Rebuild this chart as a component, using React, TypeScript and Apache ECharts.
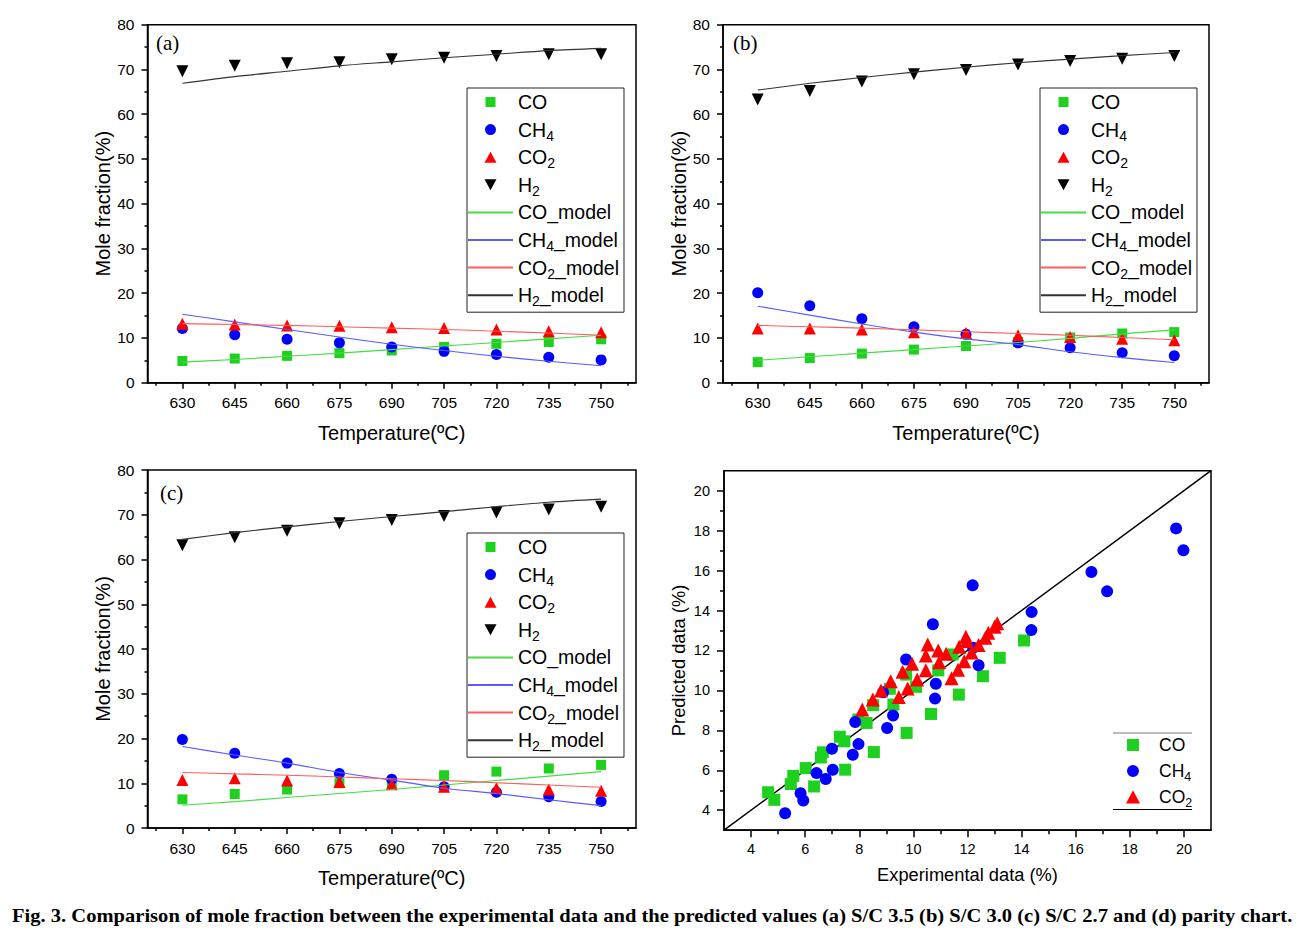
import React, { useEffect, useRef } from "react";
import * as echarts from "echarts";

// ---------- data ----------
const temps = [630, 645, 660, 675, 690, 705, 720, 735, 750];
const tempMinorTicks = [622.5, 637.5, 652.5, 667.5, 682.5, 697.5, 712.5, 727.5, 742.5, 757.5];

// (a) S/C 3.5
const aCO = [4.85, 5.4, 6.0, 6.6, 7.2, 8.0, 8.7, 9.1, 9.7];
const aCH4 = [12.1, 10.7, 9.7, 8.9, 8.0, 7.0, 6.3, 5.7, 5.1];
const aCO2 = [13.2, 13.0, 12.8, 12.7, 12.4, 12.2, 11.9, 11.5, 11.3];
const aH2 = [69.6, 70.8, 71.4, 71.6, 72.3, 72.6, 73.0, 73.4, 73.4];
const aCOm = [4.6, 5.2, 5.9, 6.6, 7.4, 8.2, 9.0, 9.8, 10.6];
const aCH4m = [15.3, 13.6, 11.9, 10.2, 8.6, 7.2, 5.9, 4.8, 3.8];
const aCO2m = [13.2, 13.0, 12.8, 12.5, 12.2, 11.9, 11.5, 11.1, 10.6];
const aH2m = [66.9, 68.4, 69.6, 70.8, 71.7, 72.6, 73.4, 74.2, 74.7];

// (b) S/C 3.0
const bCO = [4.6, 5.5, 6.5, 7.4, 8.2, 9.1, 10.1, 11.0, 11.3];
const bCH4 = [20.1, 17.2, 14.3, 12.5, 10.8, 8.9, 7.8, 6.7, 6.0];
const bCO2 = [12.1, 12.1, 11.9, 11.3, 11.1, 10.6, 10.2, 9.8, 9.5];
const bH2 = [63.3, 65.2, 67.3, 68.9, 69.9, 71.1, 71.9, 72.4, 73.0];
const bCOm = [5.0, 5.8, 6.6, 7.4, 8.2, 9.0, 9.9, 10.9, 11.8];
const bCH4m = [17.1, 15.1, 13.1, 11.3, 9.8, 8.5, 6.9, 5.6, 4.5];
const bCO2m = [12.8, 12.5, 12.2, 11.8, 11.4, 11.0, 10.6, 10.1, 9.6];
const bH2m = [65.4, 66.9, 68.2, 69.4, 70.5, 71.5, 72.3, 73.1, 73.8];

// (c) S/C 2.7
const cCO = [6.4, 7.6, 8.6, 10.0, 9.8, 11.8, 12.6, 13.3, 14.1];
const cCH4 = [19.8, 16.7, 14.5, 12.2, 10.9, 9.2, 8.0, 7.0, 5.9];
const cCO2 = [10.7, 11.1, 10.6, 10.3, 9.8, 9.2, 8.9, 8.6, 8.3];
const cH2 = [63.2, 65.0, 66.4, 68.1, 68.8, 69.7, 70.5, 71.2, 71.8];
const cCOm = [5.1, 5.9, 6.8, 7.7, 8.6, 9.6, 10.6, 11.6, 12.6];
const cCH4m = [18.2, 16.3, 14.5, 12.4, 10.7, 8.9, 7.7, 6.3, 5.0];
const cCO2m = [12.4, 12.1, 11.8, 11.4, 11.0, 10.6, 10.1, 9.6, 9.1];
const cH2m = [64.5, 66.0, 67.3, 68.5, 69.6, 70.7, 71.8, 72.8, 73.5];

// (d) parity chart: [experimental, predicted]
const parityCO = [
  [4.63, 4.9], [4.86, 4.52], [5.47, 5.31], [5.56, 5.72], [6.02, 6.11], [6.33, 5.19],
  [6.58, 6.64], [6.65, 6.9], [7.28, 7.68], [7.45, 7.45], [7.48, 6.03], [7.97, 8.54],
  [8.27, 8.37], [8.51, 9.26], [8.54, 6.91], [9.13, 10.08], [9.26, 9.29], [9.73, 10.79],
  [9.75, 7.87], [10.1, 10.18], [10.65, 8.82], [10.92, 11.0], [11.45, 11.8], [11.68, 9.79],
  [12.57, 10.71], [13.19, 11.63], [14.09, 12.5],
];
const parityCH4 = [
  [5.26, 3.85], [5.83, 4.85], [5.93, 4.49], [6.42, 5.86], [6.76, 5.56], [6.99, 7.08],
  [7.02, 6.03], [7.76, 6.78], [7.85, 8.42], [7.97, 7.31], [8.88, 9.91], [9.03, 8.12],
  [9.25, 8.74], [9.73, 11.55], [10.72, 13.31], [10.83, 10.33], [10.8, 9.59], [12.19, 15.26],
  [12.21, 12.13], [12.41, 11.26], [14.36, 13.02], [14.37, 13.92], [16.58, 15.93],
  [17.16, 14.96], [19.71, 18.11], [19.98, 17.02],
];
const parityCO2 = [
  [8.11, 9.04], [8.5, 9.54], [8.8, 9.99], [9.16, 10.46], [9.46, 9.67], [9.6, 10.93],
  [9.79, 10.09], [9.95, 11.33], [10.14, 10.54], [10.46, 11.01], [10.46, 11.75], [10.53, 12.3],
  [10.92, 12.0], [10.95, 11.41], [11.21, 11.83], [11.41, 10.61], [11.65, 11.03], [11.69, 12.18],
  [11.88, 11.46], [11.94, 12.69], [11.98, 12.47], [12.15, 11.9], [12.41, 12.27], [12.66, 12.64],
  [12.77, 12.89], [13.0, 13.19], [13.1, 13.36],
];
const parityLine = [[3, 3], [21, 21]];
const parityTicks = [4, 6, 8, 10, 12, 14, 16, 18, 20];
const parityMinorTicks = [5, 7, 9, 11, 13, 15, 17, 19];

const panelLabels = ["(a)", "(b)", "(c)"];
const seriesNames = ["CO", "CH4", "CO2", "H2", "CO_model", "CH4_model", "CO2_model", "H2_model"];
const parityNames = ["CO", "CH4", "CO2"];
const caption =
  "Fig. 3. Comparison of mole fraction between the experimental data and the predicted values (a) S/C 3.5 (b) S/C 3.0 (c) S/C 2.7 and (d) parity chart.";

// ---------- styles ----------
const FONT = "Liberation Sans";
const SERIF = "Liberation Serif";
const GREEN = "#1fd11f";
const BLUE = "#0000ff";
const RED = "#ff0000";
const BLACK = "#000000";
const MODEL_COLORS = ["#44dd44", "#5a5aff", "#ff5c5c", "#333333"];

// legend icons: symbol centred in a (width x height) box, corners kept by empty sub-paths
const PANEL_ICONS = [
  "path://M0,0L0,0ZM45,12L45,12ZM17.5,1L27.5,1L27.5,11L17.5,11Z",
  "path://M0,0L0,0ZM45,12L45,12ZM28,6A5.5,5.5,0,1,1,17,6A5.5,5.5,0,1,1,28,6Z",
  "path://M0,0L0,0ZM45,12L45,12ZM22.5,0.5L28.5,11.5L16.5,11.5Z",
  "path://M0,0L0,0ZM45,12L45,12ZM16.5,0.5L28.5,0.5L22.5,11.5Z",
];
const PARITY_ICONS = [
  "path://M0,0L0,0ZM42,14L42,14ZM15,1L27,1L27,13L15,13Z",
  "path://M0,0L0,0ZM42,14L42,14ZM27,7A6,6,0,1,1,15,7A6,6,0,1,1,27,7Z",
  "path://M0,0L0,0ZM42,14L42,14ZM21,0.3L28,13.5L14,13.5Z",
];

const grids = [
  { left: 147.5, top: 24.7, width: 488.5, height: 358 },
  { left: 723, top: 24.7, width: 486, height: 358 },
  { left: 147.5, top: 470, width: 488.5, height: 358 },
  { left: 724, top: 470.7, width: 487, height: 359.5 },
];
const legendPos = [
  { left: 467, top: 88 },
  { left: 1040, top: 88 },
  { left: 467, top: 533 },
];
const labelPos = [
  { x: 156, y: 43 },
  { x: 733, y: 43 },
  { x: 160, y: 493 },
];

const fmtName = (name: string) => {
  const m = name.match(/^(\D+?)(\d?)(_model)?$/);
  if (!m) return name;
  let s = `{m|${m[1]}}`;
  if (m[2]) s += `{s|${m[2]}}`;
  if (m[3]) s += `{m|${m[3]}}`;
  return s;
};

const axisLineStyle = { show: true, onZero: false, lineStyle: { color: BLACK, width: 1.5 } };

function buildOption(captionScale: number) {
  const panelData = [
    [aCO, aCH4, aCO2, aH2, aCOm, aCH4m, aCO2m, aH2m],
    [bCO, bCH4, bCO2, bH2, bCOm, bCH4m, bCO2m, bH2m],
    [cCO, cCH4, cCO2, cH2, cCOm, cCH4m, cCO2m, cH2m],
  ];

  const xAxis: any[] = [];
  const yAxis: any[] = [];
  const series: any[] = [];

  for (let i = 0; i < 3; i++) {
    xAxis.push({
      type: "value",
      gridIndex: i,
      min: 620,
      max: 760,
      position: "bottom",
      axisLine: axisLineStyle,
      axisTick: { show: true, customValues: temps, length: 6, lineStyle: { color: BLACK, width: 1.5 } },
      axisLabel: { customValues: temps, color: BLACK, fontSize: 15.5, fontFamily: FONT, margin: 12 },
      splitLine: { show: false },
      name: "Temperature(ºC)",
      nameLocation: "middle",
      nameGap: 40,
      nameTextStyle: { color: BLACK, fontSize: 20, fontFamily: FONT },
    });
    yAxis.push({
      type: "value",
      gridIndex: i,
      min: 0,
      max: 80,
      interval: 10,
      axisLine: axisLineStyle,
      axisTick: { show: true, length: 6, lineStyle: { color: BLACK, width: 1.5 } },
      minorTick: { show: true, splitNumber: 2, length: 3, lineStyle: { color: BLACK, width: 1.5 } },
      axisLabel: { color: BLACK, fontSize: 15.5, fontFamily: FONT, margin: 13 },
      splitLine: { show: false },
      minorSplitLine: { show: false },
      name: "Mole fraction(%)",
      nameLocation: "middle",
      nameGap: 33,
      nameTextStyle: { color: BLACK, fontSize: 20, fontFamily: FONT },
    });
  }
  // parity main axes (index 3)
  xAxis.push({
    type: "value",
    gridIndex: 3,
    min: 3,
    max: 21,
    position: "bottom",
    axisLine: axisLineStyle,
    axisTick: { show: true, customValues: parityTicks, length: 7, lineStyle: { color: BLACK, width: 1.5 } },
    axisLabel: { customValues: parityTicks, color: BLACK, fontSize: 14.5, fontFamily: FONT, margin: 11 },
    splitLine: { show: false },
    name: "Experimental data (%)",
    nameLocation: "middle",
    nameGap: 35,
    nameTextStyle: { color: BLACK, fontSize: 18.3, fontFamily: FONT },
  });
  yAxis.push({
    type: "value",
    gridIndex: 3,
    min: 3,
    max: 21,
    position: "left",
    axisLine: axisLineStyle,
    axisTick: { show: true, customValues: parityTicks, length: 7, lineStyle: { color: BLACK, width: 1.5 } },
    axisLabel: { customValues: parityTicks, color: BLACK, fontSize: 14.5, fontFamily: FONT, margin: 14 },
    splitLine: { show: false },
    name: "Predicted data (%)",
    nameLocation: "middle",
    nameGap: 37,
    nameTextStyle: { color: BLACK, fontSize: 18.3, fontFamily: FONT, padding: [0, 20, 0, 0] },
  });
  // minor tick axes
  for (let i = 0; i < 3; i++) {
    xAxis.push({
      type: "value",
      gridIndex: i,
      min: 620,
      max: 760,
      position: "bottom",
      axisLine: { show: false },
      axisTick: { show: true, customValues: tempMinorTicks, length: 3, lineStyle: { color: BLACK, width: 1.5 } },
      axisLabel: { show: false },
      splitLine: { show: false },
    });
  }
  xAxis.push({
    type: "value",
    gridIndex: 3,
    min: 3,
    max: 21,
    position: "bottom",
    axisLine: { show: false },
    axisTick: { show: true, customValues: parityMinorTicks, length: 4, lineStyle: { color: BLACK, width: 1.5 } },
    axisLabel: { show: false },
    splitLine: { show: false },
  });
  yAxis.push({
    type: "value",
    gridIndex: 3,
    min: 3,
    max: 21,
    position: "left",
    axisLine: { show: false },
    axisTick: { show: true, customValues: parityMinorTicks, length: 4, lineStyle: { color: BLACK, width: 1.5 } },
    axisLabel: { show: false },
    splitLine: { show: false },
  });

  const scatterStyles = [
    { symbol: "rect", symbolSize: 10, color: GREEN, rotate: 0 },
    { symbol: "circle", symbolSize: 11, color: BLUE, rotate: 0 },
    { symbol: "triangle", symbolSize: 12, color: RED, rotate: 0 },
    { symbol: "triangle", symbolSize: 12, color: BLACK, rotate: 180 },
  ];

  for (let i = 0; i < 3; i++) {
    const d = panelData[i];
    for (let k = 0; k < 4; k++) {
      const st = scatterStyles[k];
      series.push({
        type: "scatter",
        name: seriesNames[k],
        xAxisIndex: i,
        yAxisIndex: i,
        data: temps.map((t, j) => [t, d[k][j]]),
        symbol: st.symbol,
        symbolSize: st.symbolSize,
        symbolRotate: st.rotate,
        itemStyle: { color: st.color, opacity: 1 },
        z: 3,
      });
    }
    for (let k = 0; k < 4; k++) {
      series.push({
        type: "line",
        name: seriesNames[4 + k],
        xAxisIndex: i,
        yAxisIndex: i,
        data: temps.map((t, j) => [t, d[4 + k][j]]),
        symbol: "none",
        smooth: 0.3,
        lineStyle: { width: 1.1, color: MODEL_COLORS[k] },
        itemStyle: { color: MODEL_COLORS[k], opacity: 0 },
        z: 4,
      });
    }
  }

  // parity
  series.push({
    type: "line",
    name: "y=x",
    xAxisIndex: 3,
    yAxisIndex: 3,
    data: parityLine,
    symbol: "none",
    lineStyle: { width: 1.5, color: BLACK },
    itemStyle: { color: BLACK },
    z: 2,
  });
  const paritySets = [parityCO, parityCH4, parityCO2];
  const parityStyles = [
    { symbol: "rect", symbolSize: 12, color: GREEN },
    { symbol: "circle", symbolSize: 12, color: BLUE },
    { symbol: "triangle", symbolSize: 14, color: RED },
  ];
  for (let k = 0; k < 3; k++) {
    series.push({
      type: "scatter",
      name: parityNames[k],
      xAxisIndex: 3,
      yAxisIndex: 3,
      data: paritySets[k],
      symbol: parityStyles[k].symbol,
      symbolSize: parityStyles[k].symbolSize,
      itemStyle: { color: parityStyles[k].color, opacity: 1 },
      z: 3 + k,
    });
  }

  const richLegend = (main: number, sub: number, mainPad: number, subPad: number) => ({
    m: { fontSize: main, fontFamily: FONT, color: BLACK, lineHeight: main, padding: [mainPad, 0, mainPad, 0] },
    s: { fontSize: sub, fontFamily: FONT, color: BLACK, lineHeight: sub, padding: [subPad, 0, 0, 0] },
  });

  const legendData = seriesNames.map((n, i) =>
    i < 4
      ? { name: n, icon: PANEL_ICONS[i] }
      : { name: n, itemStyle: { opacity: 0, color: "rgba(0,0,0,0)", borderWidth: 0 } }
  );

  const legend: any[] = legendPos.map((p) => ({
    orient: "vertical",
    left: p.left,
    top: p.top,
    itemWidth: 45,
    itemHeight: 12,
    itemGap: 1.6,
    padding: [1, 5, 4, 0],
    borderColor: "#222",
    borderWidth: 1,
    data: legendData,
    formatter: fmtName,
    textStyle: { fontSize: 19.5, fontFamily: FONT, color: BLACK, rich: richLegend(19.5, 14, 3, 12) },
    selectedMode: false,
  }));
  legend.push({
    orient: "vertical",
    left: 1112,
    top: 733,
    itemWidth: 42,
    itemHeight: 14,
    itemGap: 2,
    padding: 0,
    borderWidth: 0,
    data: parityNames.map((n, i) => ({ name: n, icon: PARITY_ICONS[i] })),
    formatter: fmtName,
    textStyle: { fontSize: 17.5, fontFamily: FONT, color: BLACK, rich: richLegend(17.5, 12.5, 3, 11) },
    selectedMode: false,
  });

  const graphic: any[] = labelPos.map((p, i) => ({
    type: "text",
    x: p.x,
    y: p.y,
    silent: true,
    style: {
      text: panelLabels[i],
      fontSize: 21,
      fontFamily: SERIF,
      fill: BLACK,
      verticalAlign: "middle",
      align: "left",
    },
  }));
  graphic.push(
    { type: "line", silent: true, shape: { x1: 1113, y1: 733, x2: 1192, y2: 733 }, style: { stroke: "#777", lineWidth: 1.2 } },
    { type: "line", silent: true, shape: { x1: 1113, y1: 809.5, x2: 1192, y2: 809.5 }, style: { stroke: BLACK, lineWidth: 1.2 } },
    {
      type: "text",
      x: 12,
      y: 916,
      scaleX: captionScale,
      silent: true,
      style: {
        text: caption,
        fontSize: 18,
        fontWeight: "bold",
        fontFamily: SERIF,
        fill: BLACK,
        verticalAlign: "middle",
        align: "left",
      },
    }
  );

  return {
    animation: false,
    backgroundColor: "#ffffff",
    textStyle: { fontFamily: FONT, color: BLACK },
    grid: grids.map((g) => ({
      ...g,
      show: true,
      borderColor: BLACK,
      borderWidth: 1.5,
      backgroundColor: "transparent",
      containLabel: false,
      outerBoundsMode: "none",
    })),
    xAxis,
    yAxis,
    legend,
    graphic,
    series,
  };
}

export default function App() {
  const ref = useRef<HTMLDivElement>(null);
  useEffect(() => {
    if (!ref.current) return;
    document.body.style.margin = "0";
    let scale = 1;
    try {
      const cv = document.createElement("canvas");
      const ctx = cv.getContext("2d");
      if (ctx) {
        ctx.font = `bold 18px "${SERIF}"`;
        const w = ctx.measureText(caption).width;
        if (w > 0) scale = 1281 / w;
      }
    } catch (e) {
      scale = 1;
    }
    const chart = echarts.init(ref.current, undefined, { renderer: "svg" });
    chart.setOption(buildOption(scale) as any);
    return () => chart.dispose();
  }, []);
  return (
    <div
      ref={ref}
      style={{ position: "absolute", left: 0, top: 0, width: 1303, height: 938, background: "#fff" }}
    />
  );
}
